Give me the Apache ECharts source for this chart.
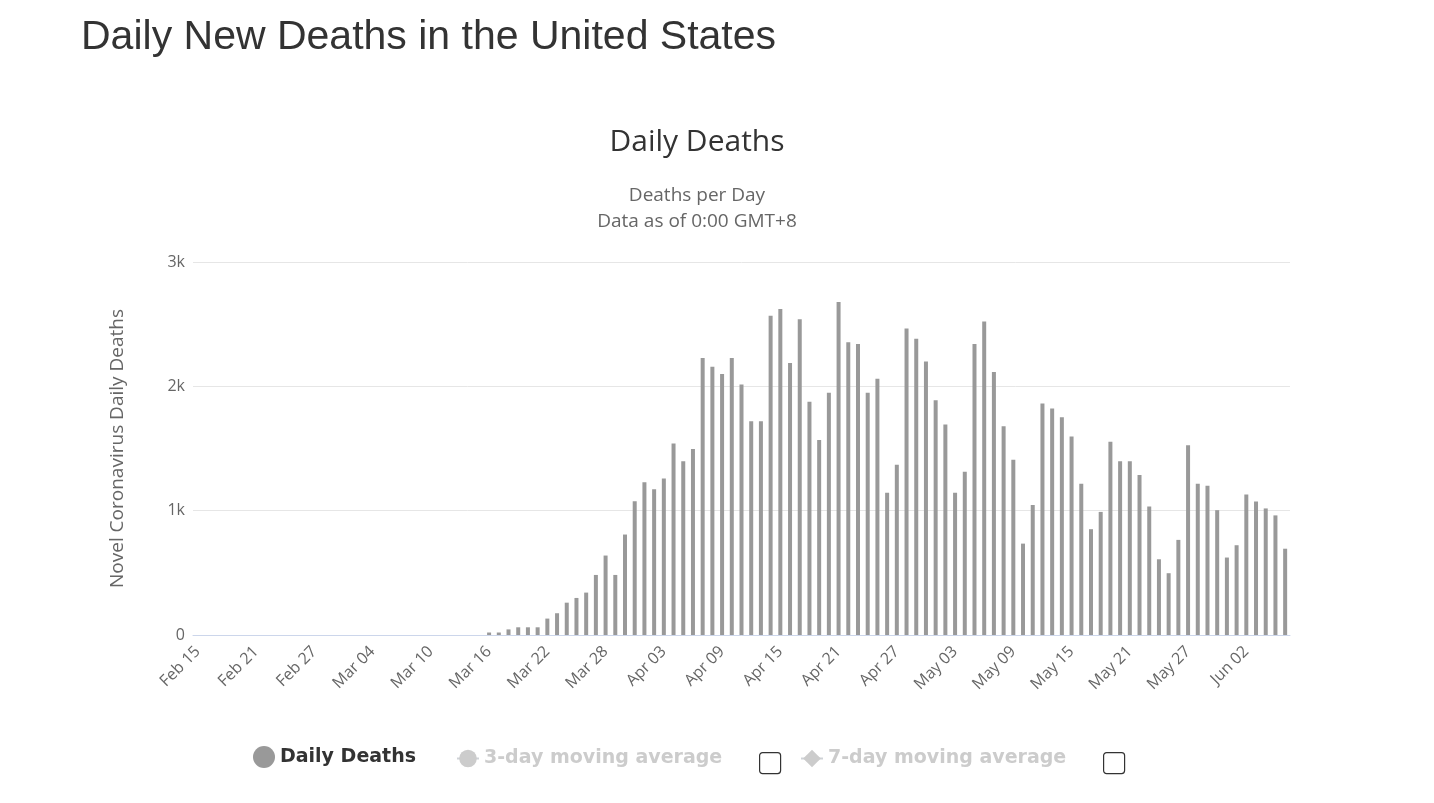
<!DOCTYPE html>
<html>
<head>
<meta charset="utf-8">
<script src="https://cdn.jsdelivr.net/npm/echarts@6/dist/echarts.min.js"></script>
<style>
  body { margin: 0; background: #fff; }
  #charts { width: 1434px; height: 803px; }
</style>
</head>
<body>
<div id="charts"></div>
<script>
// days Feb 15 .. Jun 06
const startDate = new Date(2020, 1, 15);
const months = ['Jan', 'Feb', 'Mar', 'Apr', 'May', 'Jun'];

const dailyDeaths = [
    0, 0, 0, 0, 0, 0, 0, 0, 0, 0, 0, 0, 0, 0, 0,
    0, 0, 0, 0, 0, 0, 0, 0, 0, 0, 0, 0, 0, 0, 0,
    20, 20, 45, 62, 62, 62, 132, 175, 260, 298, 341, 483, 639, 483, 808, 1076,
    1229, 1173, 1259, 1540, 1398, 1495, 2227, 2157, 2100, 2227, 2015, 1720, 1720, 2567, 2621,
    2187, 2540, 1876, 1568, 1948, 2679, 2354, 2340, 1948, 2060, 1144, 1369, 2466, 2383, 2200,
    1889, 1693, 1144, 1313, 2340, 2522, 2115, 1678, 1410, 735, 1046, 1862, 1822, 1752, 1597,
    1216, 851, 990, 1554, 1398, 1398, 1286, 1033, 609, 497, 765, 1527, 1216, 1200, 1004,
    623, 722, 1130, 1074, 1018, 962, 694
];
const avg3 = [];
const avg7 = [];

const categories = dailyDeaths.map((v, i) => {
    const d = new Date(startDate.getTime() + i * 86400000);
    return months[d.getMonth()] + ' ' + String(d.getDate()).padStart(2, '0');
});

const legendBase = {
    bottom: 30, itemWidth: 22, itemHeight: 22, itemGap: 8,
    textStyle: {fontSize: 19, fontWeight: 'bold', color: '#333', fontFamily: 'DejaVu Sans'},
    inactiveColor: '#ccc',
    selected: {'3-day moving average': false, '7-day moving average': false}
};

const chart = echarts.init(document.getElementById('charts'));
chart.setOption({
    animation: false,
    textStyle: {fontFamily: 'Open Sans, sans-serif'},
    title: [
        {text: 'Daily New Deaths in the United States', left: 76, top: 12,
            textStyle: {fontSize: 41, fontWeight: 'normal', color: '#333', fontFamily: 'Liberation Sans, Arial'}},
        {text: 'Daily Deaths', left: 692, textAlign: 'center', top: 122,
            subtext: 'Deaths per Day\nData as of 0:00 GMT+8', itemGap: 26,
            textStyle: {fontSize: 30, fontWeight: 'normal', color: '#333'},
            subtextStyle: {fontSize: 19, color: '#666', lineHeight: 26}}
    ],
    legend: [
        Object.assign({}, legendBase, {left: 248, data: [{name: 'Daily Deaths', icon: 'circle'}]}),
        Object.assign({}, legendBase, {left: 451, data: ['3-day moving average']}),
        Object.assign({}, legendBase, {left: 795, data: ['7-day moving average']})
    ],
    grid: {left: 193, right: 144, top: 262, bottom: 168},
    xAxis: {
        type: 'category',
        data: categories,
        axisLine: {lineStyle: {color: '#ccd6eb'}},
        axisTick: {show: false},
        axisLabel: {interval: 5, rotate: 45, fontSize: 16, color: '#666', margin: 14}
    },
    yAxis: {
        type: 'value', min: 0, max: 3000, interval: 1000,
        name: 'Novel Coronavirus Daily Deaths', nameLocation: 'middle', nameGap: 66,
        nameTextStyle: {fontSize: 19, color: '#666'},
        axisLabel: {fontSize: 16, color: '#666', formatter: v => v === 0 ? '0' : (v / 1000) + 'k'},
        splitLine: {lineStyle: {color: '#e6e6e6'}}
    },
    series: [
        {name: 'Daily Deaths', type: 'bar', data: dailyDeaths, barWidth: 4,
            itemStyle: {color: '#999'}},
        {name: '3-day moving average', type: 'line', data: avg3, symbol: 'circle',
            itemStyle: {color: '#ccc'}},
        {name: '7-day moving average', type: 'line', data: avg7, symbol: 'diamond',
            itemStyle: {color: '#ccc'}}
    ],
    graphic: [
        {type: 'rect', left: 759, top: 752, shape: {width: 21, height: 21, r: 3},
            style: {fill: '#fff', stroke: '#333', lineWidth: 1.2}},
        {type: 'rect', left: 1103, top: 752, shape: {width: 21, height: 21, r: 3},
            style: {fill: '#fff', stroke: '#333', lineWidth: 1.2}}
    ]
});
</script>
</body>
</html>
